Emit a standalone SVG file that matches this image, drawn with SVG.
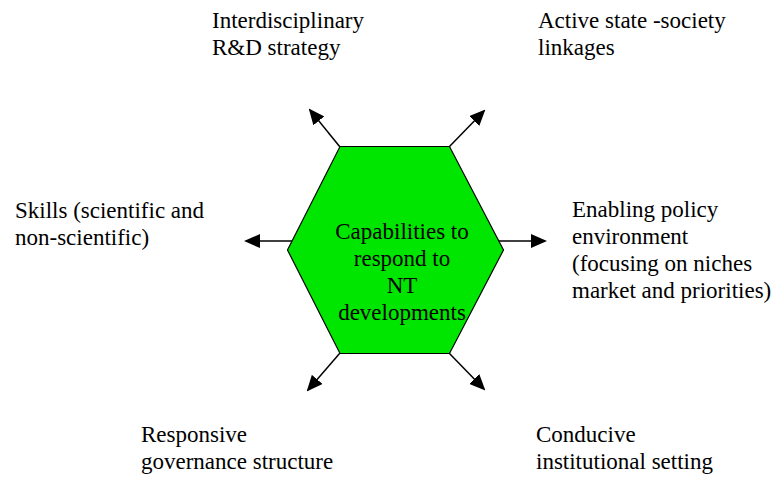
<svg xmlns="http://www.w3.org/2000/svg" width="776" height="477" viewBox="0 0 776 477">
<style>
  .lbl { font-family: "Liberation Serif", "Times New Roman", serif; font-size: 23px; fill: #000; }
  .c { text-anchor: middle; }
  .arrow { stroke: #000; stroke-width: 1.5; fill: none; marker-end: url(#ah); }
  .hex { fill: #00e600; stroke: #000; stroke-width: 1.2; }
</style>
<defs>
  <marker id="ah" viewBox="0 0 16 14" refX="14" refY="7" markerWidth="16" markerHeight="14" markerUnits="userSpaceOnUse" orient="auto">
    <path d="M0,0 L16,7 L0,14 z" fill="#000"/>
  </marker>
</defs>
<rect width="776" height="477" fill="#fff"/>
<g id="connectors">
  <line class="arrow" x1="340" y1="147" x2="310" y2="110"/>
  <line class="arrow" x1="449" y1="147" x2="484" y2="111"/>
  <line class="arrow" x1="296" y1="241" x2="246" y2="241"/>
  <line class="arrow" x1="498" y1="241" x2="545" y2="241"/>
  <line class="arrow" x1="340" y1="353" x2="308" y2="390"/>
  <line class="arrow" x1="449" y1="353" x2="484" y2="389"/>
</g>
<g id="center" class="lbl">
  <polygon class="hex" points="340,146.5 449.5,146.5 503.5,250 449.5,353.5 340,353.5 287.5,250"/>
  <text class="c" x="402" y="239">Capabilities to</text>
  <text class="c" x="402" y="266">respond to</text>
  <text class="c" x="402" y="293">NT</text>
  <text class="c" x="402" y="320">developments</text>
</g>
<g id="rd" class="lbl">
  <text x="212" y="28">Interdisciplinary</text>
  <text x="212" y="55">R&amp;D strategy</text>
</g>
<g id="linkages" class="lbl">
  <text x="538" y="28">Active state -society</text>
  <text x="538" y="55">linkages</text>
</g>
<g id="skills" class="lbl">
  <text x="15" y="218">Skills (scientific and</text>
  <text x="15" y="245">non-scientific)</text>
</g>
<g id="policy" class="lbl">
  <text x="572" y="217">Enabling policy</text>
  <text x="572" y="244">environment</text>
  <text x="572" y="271">(focusing on niches</text>
  <text x="572" y="298">market and priorities)</text>
</g>
<g id="governance" class="lbl">
  <text x="141" y="442">Responsive</text>
  <text x="141" y="469">governance structure</text>
</g>
<g id="institutional" class="lbl">
  <text x="536" y="442">Conducive</text>
  <text x="536" y="469">institutional setting</text>
</g>
</svg>
